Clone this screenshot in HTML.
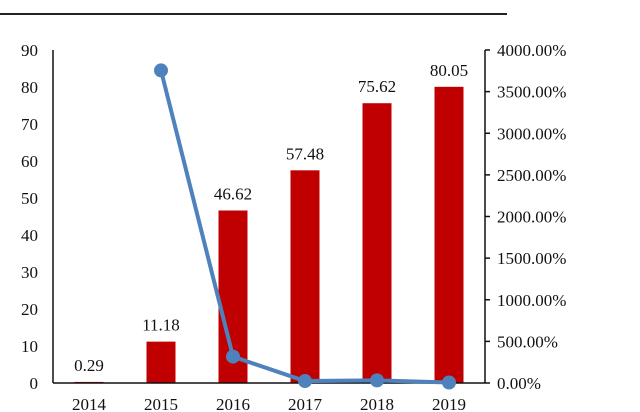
<!DOCTYPE html>
<html><head><meta charset="utf-8"><style>
body{margin:0;background:#fff;}
svg{display:block;font-family:"Liberation Serif",serif;}
</style></head><body>
<svg id="c" width="640" height="412">
<line x1="0" y1="14" x2="507" y2="14" stroke="#222" stroke-width="2"/>
</svg>
<script>
const categories=["2014","2015","2016","2017","2018","2019"];
const barValues=[0.29,11.18,46.62,57.48,75.62,80.05];
const growthValues=[null,3755,317,23.3,31.6,5.86];
const leftTicks=[0,10,20,30,40,50,60,70,80,90];
const rightTicks=[0,500,1000,1500,2000,2500,3000,3500,4000];
const svg=document.getElementById('c');const NS='http://www.w3.org/2000/svg';
const x0=53,x1=485,yB=383,yT=50;
const band=(x1-x0)/categories.length;
const xc=i=>x0+band*(i+0.5);
const yL=v=>yB-(v/90)*(yB-yT);
const yR=v=>yB-(v/4000)*(yB-yT);
function mk(t,a,txt){const e=document.createElementNS(NS,t);for(const k in a)e.setAttribute(k,a[k]);if(txt!=null)e.textContent=txt;svg.appendChild(e);return e;}
barValues.forEach((v,i)=>{
 const r=mk('rect',{x:xc(i)-14.5,y:yL(v),width:29,height:yB-yL(v),fill:'#c00000'});
 
 
 const t=mk('text',{x:xc(i),y:yL(v)-11,'text-anchor':'middle','font-size':17,fill:'#111'},v.toFixed(2));
 
 
 const c=mk('text',{x:xc(i),y:yB+27,'text-anchor':'middle','font-size':17,fill:'#111'},categories[i]);
 
 
});
let ax=mk('line',{x1:x0,y1:yT,x2:x0,y2:yB,stroke:'#111','stroke-width':1.5});

ax=mk('line',{x1:x0,y1:yB,x2:x1,y2:yB,stroke:'#111','stroke-width':1.5});

ax=mk('line',{x1:x1,y1:yT,x2:x1,y2:yB,stroke:'#111','stroke-width':1.5});

leftTicks.forEach(v=>{const t=mk('text',{x:38,y:yL(v)+6,'text-anchor':'end','font-size':17,fill:'#111'},v);
 });
rightTicks.forEach(v=>{mk('line',{x1:x1,y1:yR(v),x2:x1+5,y2:yR(v),stroke:'#111','stroke-width':1.5});
 const t=mk('text',{x:497,y:yR(v)+6,'font-size':17,fill:'#111'},v.toFixed(2)+'%');
 });
const pts=[];growthValues.forEach((v,i)=>{if(v!=null)pts.push([xc(i),yR(v)]);});
const pl=mk('polyline',{points:pts.map(p=>p.join(',')).join(' '),fill:'none',stroke:'#4f81bd','stroke-width':4});

pts.forEach((p,i)=>{const c=mk('circle',{cx:p[0],cy:p[1],r:7,fill:'#4f81bd'});
 });
</script>
</body></html>
